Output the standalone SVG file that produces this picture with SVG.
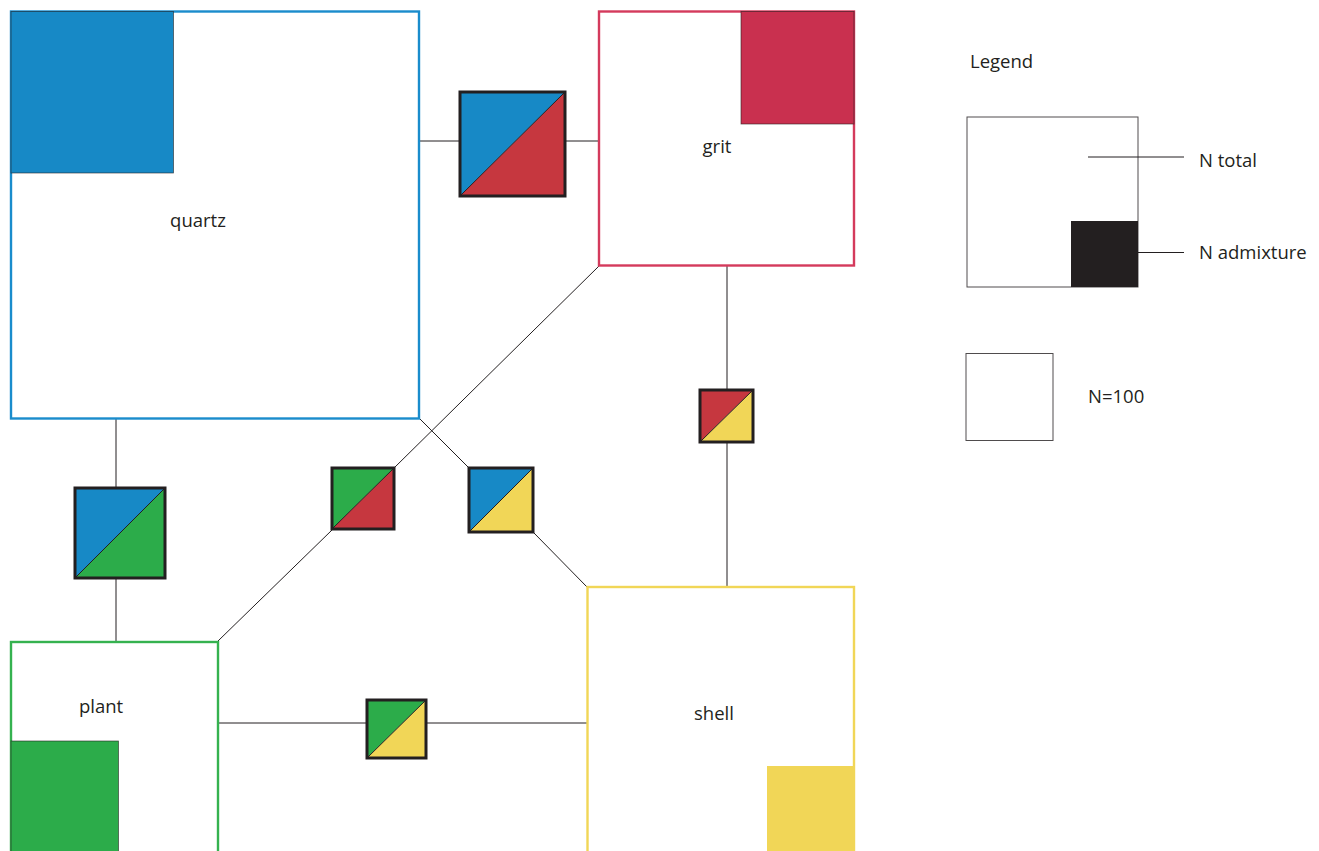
<svg xmlns="http://www.w3.org/2000/svg" width="1319" height="851" viewBox="0 0 1319 851">
<style>
.bg{fill:#ffffff}
.conn{stroke:#231f20;stroke-width:1;fill:none}
.box{fill:#ffffff;stroke-width:2.4}
.inner{stroke:#231f20;stroke-width:0.8;stroke-opacity:0.7}
.mix{fill:none;stroke:#231f20;stroke-width:3}
.diag{stroke:#231f20;stroke-width:1}
.lbl{font-family:"Open Sans","Noto Sans","Liberation Sans",sans-serif;font-size:18.5px;fill:#231f20}
.lg{fill:#ffffff;stroke:#231f20;stroke-width:1;stroke-opacity:0.8}
.blue{fill:#1789c6}
.red{fill:#c9304f}
.mred{fill:#c6373f}
.green{fill:#2cac4a}
.yellow{fill:#f1d657}
</style>
<rect class="bg" x="0" y="0" width="1319" height="851"/>
<g id="connectors">
<line class="conn" x1="420" y1="141" x2="460" y2="141"/>
<line class="conn" x1="565" y1="141" x2="599" y2="141"/>
<line class="conn" x1="116" y1="419" x2="116" y2="488"/>
<line class="conn" x1="116" y1="579" x2="116" y2="642"/>
<line class="conn" x1="218" y1="641" x2="332" y2="530"/>
<line class="conn" x1="394" y1="468" x2="599" y2="266"/>
<line class="conn" x1="420" y1="419" x2="469" y2="468"/>
<line class="conn" x1="534" y1="533" x2="587" y2="587"/>
<line class="conn" x1="727" y1="266" x2="727" y2="389"/>
<line class="conn" x1="727" y1="443" x2="727" y2="587"/>
<line class="conn" x1="218" y1="723" x2="367" y2="723"/>
<line class="conn" x1="426" y1="723" x2="587" y2="723"/>
</g>
<g id="quartz">
<rect class="box" x="11" y="11.5" width="408" height="407" stroke="#1a8ccc"/>
<rect class="inner blue" x="11" y="11.5" width="162.5" height="161.5"/>
<text class="lbl" x="198" y="227" text-anchor="middle">quartz</text>
</g>
<g id="grit">
<rect class="box" x="599" y="11.5" width="255" height="254" stroke="#d43a5c"/>
<rect class="inner red" x="741" y="11.5" width="113" height="112.5"/>
<text class="lbl" x="717" y="153" text-anchor="middle">grit</text>
</g>
<g id="plant">
<rect class="box" x="11" y="642" width="207" height="215" stroke="#35b24f"/>
<rect class="inner green" x="11" y="741" width="107.5" height="115"/>
<text class="lbl" x="101" y="713" text-anchor="middle">plant</text>
</g>
<g id="shell">
<rect class="box" x="587.5" y="587" width="266.5" height="270" stroke="#f1d657"/>
<rect class="yellow" x="767" y="766" width="87" height="90"/>
<text class="lbl" x="714" y="720" text-anchor="middle">shell</text>
</g>
<g id="quartz-grit">
<polygon class="blue" points="460,92 565,92 460,196"/>
<polygon class="mred" points="565,92 565,196 460,196"/>
<line class="diag" x1="460" y1="196" x2="565" y2="92"/>
<rect class="mix" x="460" y="92" width="105" height="104"/>
</g>
<g id="quartz-plant">
<polygon class="blue" points="75,488 165,488 75,578"/>
<polygon class="green" points="165,488 165,578 75,578"/>
<line class="diag" x1="75" y1="578" x2="165" y2="488"/>
<rect class="mix" x="75" y="488" width="90" height="90"/>
</g>
<g id="plant-grit">
<polygon class="green" points="332,468 394,468 332,529"/>
<polygon class="mred" points="394,468 394,529 332,529"/>
<line class="diag" x1="332" y1="529" x2="394" y2="468"/>
<rect class="mix" x="332" y="468" width="62" height="61"/>
</g>
<g id="quartz-shell">
<polygon class="blue" points="469,468 533,468 469,532"/>
<polygon class="yellow" points="533,468 533,532 469,532"/>
<line class="diag" x1="469" y1="532" x2="533" y2="468"/>
<rect class="mix" x="469" y="468" width="64" height="64"/>
</g>
<g id="grit-shell">
<polygon class="mred" points="700,390 753,390 700,442"/>
<polygon class="yellow" points="753,390 753,442 700,442"/>
<line class="diag" x1="700" y1="442" x2="753" y2="390"/>
<rect class="mix" x="700" y="390" width="53" height="52"/>
</g>
<g id="plant-shell">
<polygon class="green" points="367,700 426,700 367,758"/>
<polygon class="yellow" points="426,700 426,758 367,758"/>
<line class="diag" x1="367" y1="758" x2="426" y2="700"/>
<rect class="mix" x="367" y="700" width="59" height="58"/>
</g>
<g id="legend">
<text class="lbl" x="970" y="68">Legend</text>
<rect class="lg" x="967" y="117" width="171" height="170"/>
<rect x="1071" y="221" width="67" height="66" fill="#231f20"/>
<line class="conn" x1="1088" y1="157" x2="1184" y2="157"/>
<line class="conn" x1="1138" y1="252.5" x2="1184" y2="252.5"/>
<text class="lbl" x="1199" y="167">N total</text>
<text class="lbl" x="1199" y="259">N admixture</text>
<rect class="lg" x="966" y="353.5" width="87" height="87"/>
<text class="lbl" x="1088" y="403">N=100</text>
</g>
</svg>
